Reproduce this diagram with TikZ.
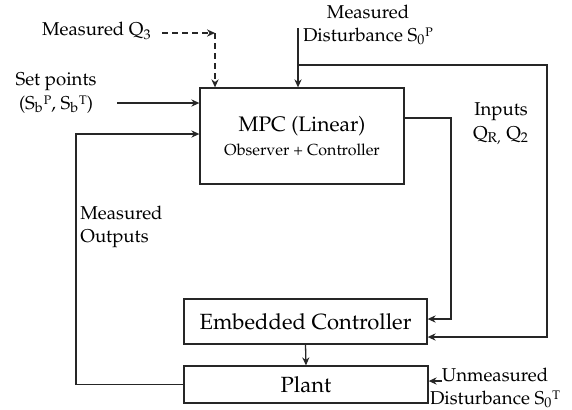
\documentclass[tikz,border=0pt]{standalone}
\usepackage[T1]{fontenc}
\usepackage{mathpazo}
\usetikzlibrary{arrows.meta,calc}
% subscript followed by a low superscript, as in S_0^P
\newcommand{\subsup}[2]{\textsubscript{#1}\raisebox{0.55ex}{\fontsize{6.2}{7}\selectfont #2}}
\tikzset{
  block/.style={draw=black!85, line width=0.65pt, fill=white, inner sep=0pt, font=\fontsize{11}{13}\selectfont},
  lbl/.style={inner sep=0pt, font=\fontsize{9.3}{11.6}\selectfont, align=center},
  wire/.style={draw=black!85, line width=0.65pt},
  arr/.style={wire, -{Stealth[length=4pt,width=3.6pt]}},
  dash line/.style={dash pattern=on 3pt off 2pt},
}
\begin{document}
\begin{tikzpicture}[x=0.5pt,y=-0.5pt]
\useasboundingbox (0,0) rectangle (572,409);

% blocks
\node[block, minimum width=102pt, minimum height=48pt] (mpc) at (302,136) {};
\node[inner sep=0pt, font=\fontsize{10.5}{12}\selectfont] (mpct) at (302,126) {MPC (Linear)};
\node[inner sep=0pt, font=\fontsize{8}{10}\selectfont] (mpcs) at (302,150) {Observer + Controller};
\node[block, minimum width=121.5pt, minimum height=22.5pt] (ec) at (305.5,321.5) {Embedded Controller};
\node[block, minimum width=122pt, minimum height=18.5pt] (plant) at (306,384.5) {Plant};

% labels
\node[lbl, anchor=east] (q3) at (152,31) {Measured Q\textsubscript{3}};
\node[lbl] (sp) at (56,93) {Set points\\(S\subsup{b}{P}, S\subsup{b}{T})};
\node[lbl] (md) at (368,25) {Measured\\Disturbance S\subsup{0}{P}};
\node[lbl] (inp) at (501,124) {Inputs\\Q\textsubscript{R,} Q\textsubscript{2}};
\node[lbl, align=left, anchor=west] (mo) at (80,227) {Measured\\Outputs};
\node[lbl] (ud) at (495,388) {Unmeasured\\Disturbance S\subsup{0}{T}};

% junction points
\coordinate (q3c) at (215,33);
\coordinate (q3s) at (162,33);
\coordinate (dtop) at (298,28);
\coordinate (dj) at (298,65);
\coordinate (dr) at (547,65);
\coordinate (mr) at (451,118);
\coordinate (spl) at (117,103);
\coordinate (mol) at (76,134);
\coordinate (uds) at (442,381);

% measured Q3 (dashed)
\draw[arr, dash line] (q3s) -- (q3c);
\draw[arr, dash line] (q3c) -- (q3c |- mpc.north);

% set points
\draw[arr] (spl) -- (mpc.west |- spl);

% measured disturbance
\draw[arr] (dtop) -- (dtop |- mpc.north);
\draw[arr] (dj) -- (dr) |- ($(ec.east)+(0,15.5)$);

% MPC inputs to embedded controller
\draw[arr] (mpc.east |- mr) -- (mr) |- ($(ec.east)+(0,-2.5)$);

% embedded controller to plant
\draw[arr] (ec.south) -- (plant.north);

% measured outputs feedback
\draw[arr] (plant.west) -| (mol) -- (mpc.west |- mol);

% unmeasured disturbance
\draw[arr] (uds) -- (plant.east |- uds);
\end{tikzpicture}
\end{document}
